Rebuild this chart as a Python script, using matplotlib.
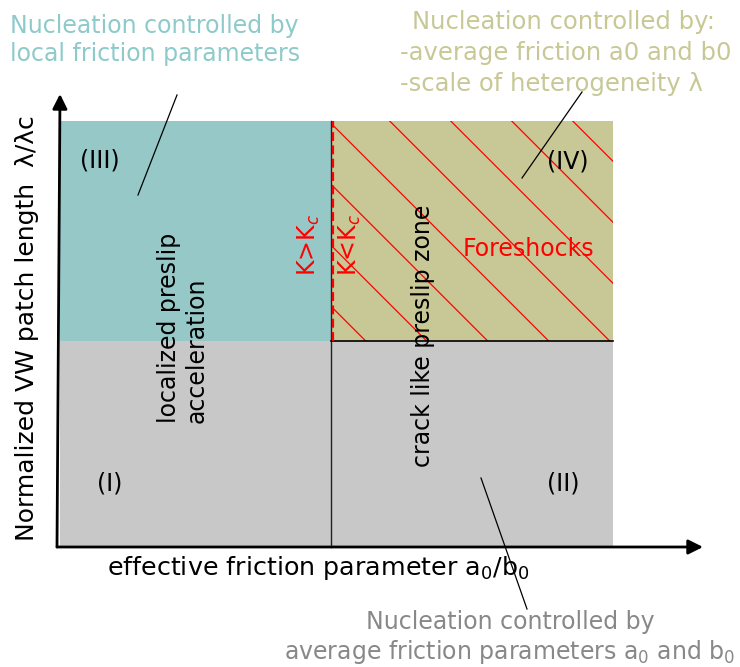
import matplotlib
matplotlib.use('Agg')
import matplotlib.pyplot as plt
from matplotlib.patches import Rectangle

W, H = 740, 667

# regime boundaries: effective a0/b0 (x) and normalized patch length lambda/lambda_c (y)
x_edges = [0.0, 1.0, 2.04]
y_edges = [0.0, 1.0, 2.07]

# regions: column index, row index, label, colour
region_cols = [0, 1, 0, 1]
region_rows = [0, 0, 1, 1]
region_labels = ['(I)', '(II)', '(III)', '(IV)']
region_colors = ['#c8c8c8', '#c8c8c8', '#96c8c8', '#c8c896']

# pixel scale of one unit on each axis and pixel position of the origin
sx, sy = 271.0, 206.0
ox, oy = 60.0, 547.0


def fpos(x, y):
    # pixel (from top-left) -> figure fraction
    return x / W, 1 - y / H


fig = plt.figure(figsize=(W / 100, H / 100), dpi=100)
ax = fig.add_axes([0, 0, 1, 1])
ax.set_xlim(-ox / sx, (W - ox) / sx)
ax.set_ylim(-(H - oy) / sy, oy / sy)
ax.axis('off')

rects = []
for c, r, col in zip(region_cols, region_rows, region_colors):
    rect = Rectangle((x_edges[c], y_edges[r]), x_edges[c + 1] - x_edges[c],
                     y_edges[r + 1] - y_edges[r], facecolor=col, edgecolor='none', zorder=1)
    ax.add_patch(rect)
    rects.append(rect)

# red hatching in the foreshock region (IV), 45 degrees on screen
olive = rects[3]
step = 61.0 / sx
ytop, ybot = y_edges[1], y_edges[2]
for k in range(-5, 6):
    xt = x_edges[1] - 0.01 + k * step
    dx = (ybot - ytop) * sy / sx
    ln, = ax.plot([xt, xt + dx], [ybot, ytop], color='red', lw=0.9, zorder=2)
    ln.set_clip_path(olive)

# boundaries
ax.plot([x_edges[1], x_edges[1]], [y_edges[0], y_edges[2]], color='#222222', lw=1.0, zorder=3)
ax.plot([x_edges[1], x_edges[2]], [y_edges[1], y_edges[1]], color='black', lw=1.2, zorder=3)
ax.plot([x_edges[1] + 1.5 / sx] * 2, [y_edges[1], y_edges[2]], color='red', lw=1.6,
        linestyle=(0, (4, 2)), zorder=4)

# axes arrows
arrow = dict(arrowstyle='-|>', lw=2.0, color='black', mutation_scale=22, shrinkA=0, shrinkB=0)
ax.annotate('', xy=((703 - ox) / sx, 0), xytext=(-3 / sx, 0), arrowprops=arrow, zorder=5)
ax.annotate('', xy=(0, (oy - 94) / sy), xytext=(-3 / sx, 0), arrowprops=arrow, zorder=5)

fs = 17
tf = fig.transFigure

# region labels
label_px = [(110, 483), (563, 484), (100, 160), (568, 162)]
for lab, (px, py) in zip(region_labels, label_px):
    fig.text(*fpos(px, py), lab, fontsize=fs, ha='center', va='center', zorder=6)

fig.text(*fpos(183, 328), 'localized preslip\nacceleration', fontsize=fs, rotation=90,
         ha='center', va='center', multialignment='left')
fig.text(*fpos(423, 336), 'crack like preslip zone', fontsize=fs, rotation=90,
         ha='center', va='center')
fig.text(*fpos(528, 249), 'Foreshocks', fontsize=fs, color='red', ha='center', va='center')
fig.text(*fpos(309, 245), r'K>K$_c$', fontsize=fs, color='red', rotation=90,
         ha='center', va='center')
fig.text(*fpos(350, 245), r'K<K$_c$', fontsize=fs, color='red', rotation=90,
         ha='center', va='center')

# axis titles
fig.text(*fpos(318, 568), r'effective friction parameter a$_0$/b$_0$', fontsize=18.3,
         ha='center', va='center')
fig.text(*fpos(27, 328), 'Normalized VW patch length  λ/λc', fontsize=18,
         rotation=90, ha='center', va='center')

# explanatory notes
fig.text(*fpos(10, 40), 'Nucleation controlled by\nlocal friction parameters', fontsize=fs,
         color='#8ecaca', ha='left', va='center')
fig.text(*fpos(412, 22), 'Nucleation controlled by:', fontsize=17.5, color='#c8c896',
         ha='left', va='center')
fig.text(*fpos(400, 53), '-average friction a0 and b0', fontsize=17.5, color='#c8c896',
         ha='left', va='center')
fig.text(*fpos(400, 84), '-scale of heterogeneity λ', fontsize=17.5, color='#c8c896',
         ha='left', va='center')
fig.text(*fpos(510, 638), 'Nucleation controlled by\naverage friction parameters a$_0$ and b$_0$',
         fontsize=fs, color='#888888', ha='center', va='center')

# pointer lines from notes to regions
pointers = [((177, 95), (138, 195)), ((582, 92), (522, 178)), ((481, 478), (527, 609))]
for (x0, y0), (x1, y1) in pointers:
    fig.add_artist(plt.Line2D([x0 / W, x1 / W], [1 - y0 / H, 1 - y1 / H],
                              transform=tf, color='black', lw=0.9))

fig.savefig('out.png', dpi=100)
